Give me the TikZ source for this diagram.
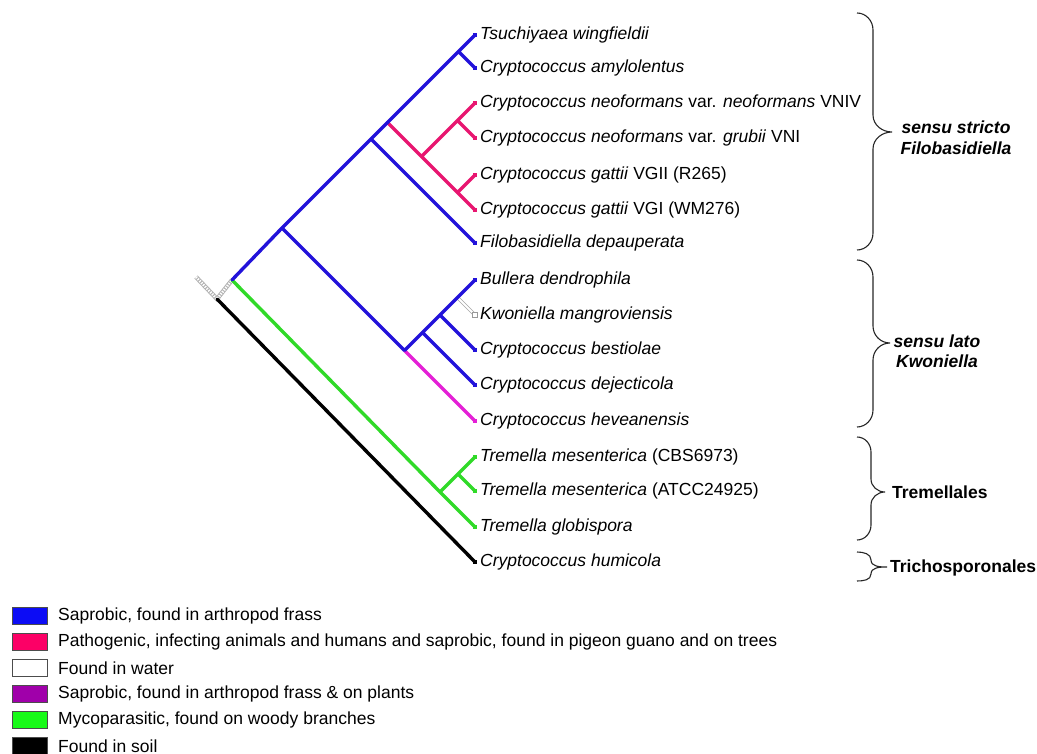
\documentclass[tikz,border=0pt]{standalone}
\usepackage{fontspec}
\setmainfont{Liberation Sans}
\definecolor{tblue}{RGB}{34,18,218}
\definecolor{tpink}{RGB}{232,22,112}
\definecolor{tmag}{RGB}{228,32,214}
\definecolor{tgreen}{RGB}{48,218,40}
\definecolor{lblue}{RGB}{12,12,245}
\definecolor{lpink}{RGB}{252,0,102}
\definecolor{lpurple}{RGB}{160,0,170}
\definecolor{lgreen}{RGB}{24,250,24}
\begin{document}
\begin{tikzpicture}[x=1pt,y=-1pt,
  br/.style={line width=3.4pt, line cap=round, line join=round},
  tipsq/.style={rectangle, inner sep=0pt, minimum size=4pt, draw=none},
  sp/.style={anchor=west, inner sep=0pt, xshift=5pt, font=\fontsize{17.5}{21}\selectfont},
  bl/.style={inner sep=0pt, font=\fontsize{17.5}{20.5}\selectfont\bfseries},
  bracepath/.style={line width=1.1pt, black!85},
  lbox/.style={rectangle, inner sep=0pt, minimum width=35pt, minimum height=17.5pt, draw=black!70, line width=0.9pt},
  ltxt/.style={anchor=west, inner sep=0pt, font=\fontsize{17.5}{21}\selectfont}]
\useasboundingbox (0,0) rectangle (1037,754);

% tips
\coordinate (t1) at (475,35);
\coordinate (t2) at (475,68);
\coordinate (t3) at (475,103);
\coordinate (t4) at (475,138);
\coordinate (t5) at (475,175);
\coordinate (t6) at (475,210);
\coordinate (t7) at (475,243);
\coordinate (t8) at (475,280);
\coordinate (t9) at (475,315);
\coordinate (t10) at (475,350);
\coordinate (t11) at (475,385);
\coordinate (t12) at (475,421);
\coordinate (t13) at (475,457);
\coordinate (t14) at (475,491);
\coordinate (t15) at (475,527);
\coordinate (t16) at (475,562);
% internal nodes
\coordinate (C) at (458.5,51.5);
\coordinate (Pn) at (457.5,120.5);
\coordinate (Pg) at (457.5,192.5);
\coordinate (P) at (421.5,156.5);
\coordinate (B) at (387.5,122.5);
\coordinate (A) at (371,139);
\coordinate (K4) at (457.5,297.5);
\coordinate (K3) at (440,315);
\coordinate (K2) at (422.5,332.5);
\coordinate (K1) at (404.5,350.5);
\coordinate (D) at (282,228);
\coordinate (G2) at (458,474);
\coordinate (G1) at (440,492);
\coordinate (BG) at (232,280);
\coordinate (R) at (217,299);
\coordinate (RS) at (196,277);

% root (hatched)
\draw[gray!60, line width=4.4pt] (RS) -- (R) -- (BG);
\draw[white, line width=2.6pt, dash pattern=on 1.3pt off 1.3pt] (RS) -- (R) -- (BG);

% water branch
\draw[gray!70, line width=3.4pt] (K4) -- (t9);
\draw[white, line width=1.8pt] (K4) -- (t9);

% black
\draw[br, black] (R) -- (t16);
% green
\draw[br, tgreen] (BG) -- (G1) -- (t15) (G1) -- (G2) -- (t13) (G2) -- (t14);
% pink
\draw[br, tpink] (B) -- (P) -- (Pn) -- (t3) (Pn) -- (t4) (P) -- (Pg) -- (t5) (Pg) -- (t6);
% magenta
\draw[br, tmag] (K1) -- (t12);
% blue
\draw[br, tblue] (BG) -- (D) -- (A) -- (B) -- (C) -- (t1) (C) -- (t2) (A) -- (t7)
  (D) -- (K1) -- (K2) -- (K3) -- (K4) -- (t8) (K2) -- (t11) (K3) -- (t10);

% tip squares
\node[tipsq, fill=tblue] (s1) at (t1) {};
\node[tipsq, fill=tblue] (s2) at (t2) {};
\node[tipsq, fill=tpink] (s3) at (t3) {};
\node[tipsq, fill=tpink] (s4) at (t4) {};
\node[tipsq, fill=tpink] (s5) at (t5) {};
\node[tipsq, fill=tpink] (s6) at (t6) {};
\node[tipsq, fill=tblue] (s7) at (t7) {};
\node[tipsq, fill=tblue] (s8) at (t8) {};
\node[tipsq, fill=white, draw=gray!80, line width=0.6pt, minimum size=4.5pt] (s9) at (t9) {};
\node[tipsq, fill=tblue] (s10) at (t10) {};
\node[tipsq, fill=tblue] (s11) at (t11) {};
\node[tipsq, fill=tmag] (s12) at (t12) {};
\node[tipsq, fill=tgreen] (s13) at (t13) {};
\node[tipsq, fill=tgreen] (s14) at (t14) {};
\node[tipsq, fill=tgreen] (s15) at (t15) {};
\node[tipsq, fill=black] (s16) at (t16) {};

% species labels
\node[sp] (l1) at (t1) {\textit{Tsuchiyaea wingfieldii}};
\node[sp] (l2) at (t2) {\textit{Cryptococcus amylolentus}};
\node[sp] (l3) at (t3) {\textit{Cryptococcus neoformans} var. \textit{neoformans} VNIV};
\node[sp] (l4) at (t4) {\textit{Cryptococcus neoformans} var. \textit{grubii} VNI};
\node[sp] (l5) at (t5) {\textit{Cryptococcus gattii} VGII (R265)};
\node[sp] (l6) at (t6) {\textit{Cryptococcus gattii} VGI (WM276)};
\node[sp] (l7) at (t7) {\textit{Filobasidiella depauperata}};
\node[sp] (l8) at (t8) {\textit{Bullera dendrophila}};
\node[sp] (l9) at (t9) {\textit{Kwoniella mangroviensis}};
\node[sp] (l10) at (t10) {\textit{Cryptococcus bestiolae}};
\node[sp] (l11) at (t11) {\textit{Cryptococcus dejecticola}};
\node[sp] (l12) at (t12) {\textit{Cryptococcus heveanensis}};
\node[sp] (l13) at (t13) {\textit{Tremella mesenterica} (CBS6973)};
\node[sp] (l14) at (t14) {\textit{Tremella mesenterica} (ATCC24925)};
\node[sp] (l15) at (t15) {\textit{Tremella globispora}};
\node[sp] (l16) at (t16) {\textit{Cryptococcus humicola}};

% braces
\draw[bracepath] (857,13) to[out=0,in=90] (873,30) -- (873,115) to[out=-90,in=180] (892,132)
  to[out=180,in=90] (873,149) -- (873,233) to[out=-90,in=0] (857,250);
\draw[bracepath] (857,260) to[out=0,in=90] (873,277) -- (873,326) to[out=-90,in=180] (890,343)
  to[out=180,in=90] (873,360) -- (873,410) to[out=-90,in=0] (857,427);
\draw[bracepath] (857,437) to[out=0,in=90] (871,452) -- (871,479) to[out=-90,in=180] (885,492)
  to[out=180,in=90] (871,505) -- (871,525) to[out=-90,in=0] (857,540);
\draw[bracepath] (857,552) to[out=0,in=90] (871,560) to[out=-90,in=180] (887,567)
  to[out=180,in=90] (871,574) to[out=-90,in=0] (857,581);

% clade labels
\node[bl, align=center] (n1) at (956,138) {\textit{sensu stricto}\\\textit{Filobasidiella}};
\node[bl, align=center] (n2) at (937,351) {\textit{sensu lato}\\\textit{Kwoniella}};
\node[bl, anchor=west] (n3) at (892,492) {Tremellales};
\node[bl, anchor=west] (n4) at (890,568) {Trichosporonales};

% legend
\node[lbox, fill=lblue] (b1) at (29.5,616) {};
\node[lbox, fill=lpink] (b2) at (29.5,642) {};
\node[lbox, fill=white] (b3) at (29.5,668) {};
\node[lbox, fill=lpurple] (b4) at (29.5,694) {};
\node[lbox, fill=lgreen] (b5) at (29.5,720) {};
\node[lbox, fill=black] (b6) at (29.5,746) {};
\node[ltxt] (x1) at (58,616) {Saprobic, found in arthropod frass};
\node[ltxt] (x2) at (58,642) {Pathogenic, infecting animals and humans and saprobic, found in pigeon guano and on trees};
\node[ltxt] (x3) at (58,668) {Found in water};
\node[ltxt] (x4) at (58,694) {Saprobic, found in arthropod frass \& on plants};
\node[ltxt] (x5) at (58,720) {Mycoparasitic, found on woody branches};
\node[ltxt] (x6) at (58,746) {Found in soil};
\end{tikzpicture}
\end{document}
